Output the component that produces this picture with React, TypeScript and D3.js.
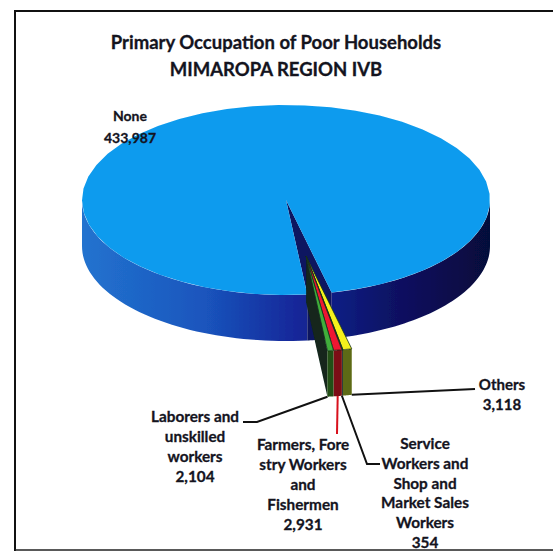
import React from 'react'
import * as d3 from 'd3'

// values as printed on the chart
const categories = ['None', 'Others', 'Service Workers and Shop and Market Sales Workers', 'Farmers, Forestry Workers and Fishermen', 'Laborers and unskilled workers']
const households = [433987, 3118, 354, 2931, 2104]
const titleLines = ['Primary Occupation of Poor Households', 'MIMAROPA REGION IVB']
const labelLines = [
  ['None', '433,987'],
  ['Others', '3,118'],
  ['Service', 'Workers and', 'Shop and', 'Market Sales', 'Workers', '354'],
  ['Farmers, Fore', 'stry Workers', 'and', 'Fishermen', '2,931'],
  ['Laborers and', 'unskilled', 'workers', '2,104'],
]

const topColors = ['#0b9bee', '#f4f01e', '#16324a', '#ee1230', '#3fae3a']
const sideColors = ['#123f9e', '#5d6a12', '#1a2a2a', '#7c1014', '#234f14']

const W = 553
const H = 552
const cx = 286
const cy = 200
const rx = 204
const ry = 95
const depth = 46
const explode = 0.6
const rad = Math.PI / 180

// label anchor (centre x, first baseline), line spacing and text size
const labelPos = [
  { x: 130, y: 121, step: 22, size: 14 },
  { x: 502, y: 390, step: 20, size: 15 },
  { x: 425, y: 449, step: 19.8, size: 15.3 },
  { x: 303, y: 450, step: 20, size: 15.3 },
  { x: 195, y: 422, step: 20, size: 15.3 },
]

// pie angles run clockwise from 12 o'clock, squashed into the ellipse
const sx = d3.scaleLinear().domain([-1, 1]).range([cx - rx, cx + rx])
const sy = d3.scaleLinear().domain([-1, 1]).range([cy - ry, cy + ry])

const pie = d3.pie<number>().sort(null).startAngle(174 * rad).endAngle(174 * rad + 2 * Math.PI)
const arcs = pie(households)

type Pt = [number, number]
const line = d3.line<Pt>()

const project = (a: number, r = 1, dx = 0, dy = 0): Pt => [
  sx(r * Math.sin(a) + dx),
  sy(-r * Math.cos(a) + dy),
]

const sweep = (a0: number, a1: number, r: number, ox = 0, oy = 0): Pt[] =>
  d3.range(0, 49).map(i => project(a0 + ((a1 - a0) * i) / 48, r, ox, oy))

const down = (pts: Pt[]): Pt[] => pts.map(([x, y]) => [x, y + depth] as Pt).reverse()

const none = arcs[0]
const gapStart = none.endAngle
const gapEnd = none.startAngle + 2 * Math.PI
const small = arcs.slice(1)
const midGap = (gapStart + gapEnd) / 2
const ox = explode * Math.sin(midGap)
const oy = -explode * Math.cos(midGap)

// None: front wall either side of the gap, then the top with the gap cut out
const sideLeft = sweep(none.startAngle, 270 * rad, 1)
const sideRight = sweep(90 * rad, gapStart - 2 * Math.PI, 1)
const gapEdge = sweep(gapStart, gapEnd, 1)
const apex = project(0, 0)
const gapPts: Pt[] = [apex, gapEdge[0], ...down(gapEdge).reverse(), gapEdge[gapEdge.length - 1]]
const nonePts: Pt[] = [apex, ...sweep(none.startAngle, none.endAngle, 1)]

const outerBottom = (a: number): Pt => {
  const [x, y] = project(a, 1, ox, oy)
  return [x, y + depth]
}

const smallApex = project(0, 0, ox, oy)
const lastAngle = small[small.length - 1].endAngle
const wallPts: Pt[] = [smallApex, project(lastAngle, 1, ox, oy), outerBottom(lastAngle), [smallApex[0], smallApex[1] + depth]]

// leaders start at the foot of each exploded slice
const leaders: Pt[][] = [
  [outerBottom(small[0].startAngle), [475, 389]],
  [outerBottom(small[1].endAngle), [367, 464], [380, 464]],
  [outerBottom((small[2].startAngle + small[2].endAngle) / 2), [337, 434]],
  [outerBottom(small[3].endAngle), [257, 422], [243, 422]],
]
const leaderColors = ['#111', '#111', '#d8101c', '#111']

const App: React.FC = () => (
  <svg
    width={W}
    height={H}
    viewBox={`0 0 ${W} ${H}`}
    style={{ position: 'absolute', left: 0, top: 0, background: '#fff' }}
    fontFamily="Lato, 'Open Sans', sans-serif"
  >
    <defs>
      <linearGradient id="sideFill" gradientUnits="userSpaceOnUse" x1={cx - rx} y1={0} x2={cx + rx} y2={0}>
        <stop offset="0" stopColor="#2273cf" />
        <stop offset="0.3" stopColor="#1a55bd" />
        <stop offset="0.52" stopColor="#14289a" />
        <stop offset="0.75" stopColor="#0c1266" />
        <stop offset="1" stopColor="#06083a" />
      </linearGradient>
      <filter id="scan" x="-5%" y="-5%" width="110%" height="110%">
        <feGaussianBlur stdDeviation="0.6" />
      </filter>
    </defs>

    <path d="M15,551 L15,11 L553,11" fill="none" stroke="#111" strokeWidth={2} />
    <line x1={15} y1={550} x2={553} y2={550} stroke="#222" strokeWidth={1.5} />

    <g filter="url(#scan)">
      <path d={line([...sideLeft, ...down(sideLeft)]) + 'Z'} fill="url(#sideFill)" />
      <path d={line([...sideRight, ...down(sideRight)]) + 'Z'} fill="url(#sideFill)" />
      <path d={line(gapPts) + 'Z'} fill="#0a1560" />
      <path d={line(nonePts) + 'Z'} fill={topColors[0]} />

      <path d={line(wallPts) + 'Z'} fill="#12261e" />
      {small.map((d, i) => {
        const rim = sweep(d.startAngle, d.endAngle, 1, ox, oy)
        return <path key={'side' + i} d={line([...rim, ...down(rim)]) + 'Z'} fill={sideColors[i + 1]} />
      })}
      {small.map((d, i) => {
        const rim = sweep(d.startAngle, d.endAngle, 1, ox, oy)
        return (
          <path
            key={categories[i + 1]}
            d={line([smallApex, ...rim]) + 'Z'}
            fill={topColors[i + 1]}
            stroke="#14301c"
            strokeWidth={0.8}
          />
        )
      })}
    </g>

    {leaders.map((pts, i) => (
      <path key={i} d={line(pts) ?? ''} fill="none" stroke={leaderColors[i]} strokeWidth={2} />
    ))}

    <g textAnchor="middle" fontWeight={700} fill="#14141e" stroke="#14141e" strokeWidth={0.3}>
      {titleLines.map((t, i) => (
        <text key={t} x={276} y={49 + i * 27} fontSize={18.5}>{t}</text>
      ))}
      {labelLines.map((lines, i) =>
        lines.map((t, j) => (
          <text key={t} x={labelPos[i].x} y={labelPos[i].y + j * labelPos[i].step} fontSize={labelPos[i].size}>{t}</text>
        )),
      )}
    </g>
  </svg>
)

export default App
